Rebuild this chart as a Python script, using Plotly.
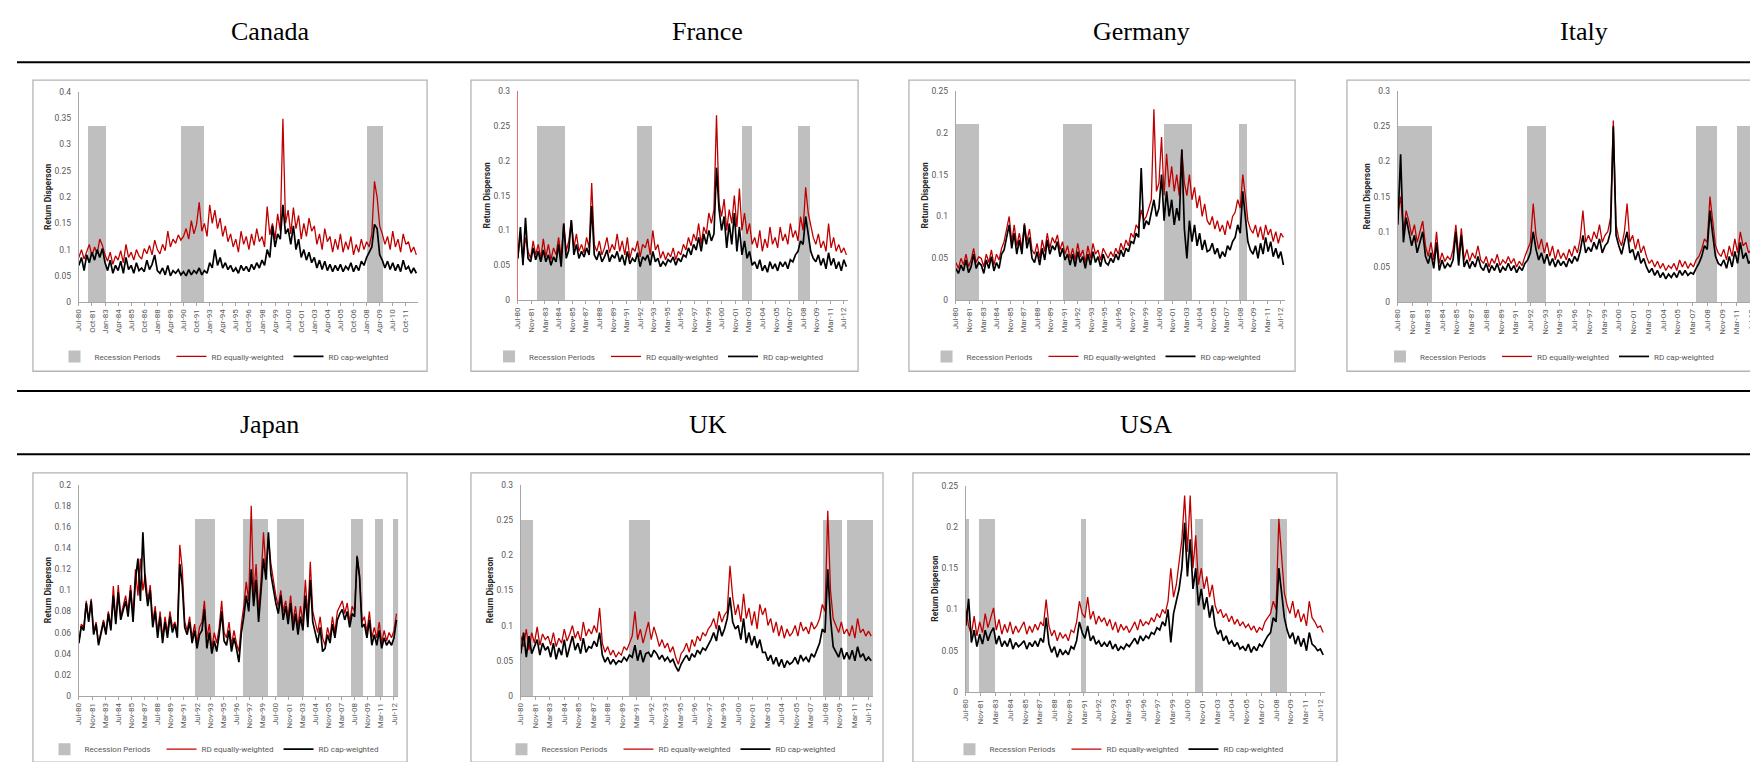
import pandas as pd
import plotly.graph_objects as go

W, H = 1758, 762

# quarterly observation dates (Jul-80 .. Oct-12)
dates = pd.date_range("1980-07-01", periods=130, freq="3MS")

ticks15 = ["Jul-80", "Oct-81", "Jan-83", "Apr-84", "Jul-85", "Oct-86", "Jan-88", "Apr-89",
           "Jul-90", "Oct-91", "Jan-93", "Apr-94", "Jul-95", "Oct-96", "Jan-98", "Apr-99",
           "Jul-00", "Oct-01", "Jan-03", "Apr-04", "Jul-05", "Oct-06", "Jan-08", "Apr-09",
           "Jul-10", "Oct-11"]
ticks16 = ["Jul-80", "Nov-81", "Mar-83", "Jul-84", "Nov-85", "Mar-87", "Jul-88", "Nov-89",
           "Mar-91", "Jul-92", "Nov-93", "Mar-95", "Jul-96", "Nov-97", "Mar-99", "Jul-00",
           "Nov-01", "Mar-03", "Jul-04", "Nov-05", "Mar-07", "Jul-08", "Nov-09", "Mar-11",
           "Jul-12"]

# values in thousandths
canada_ew = [85, 100, 82, 95, 110, 88, 105, 92, 120, 108,
             90, 78, 95, 72, 88, 80, 98, 75, 110, 85,
             95, 80, 100, 88, 82, 102, 92, 108, 90, 118,
             100, 92, 110, 98, 135, 105, 120, 112, 128, 118,
             125, 140, 120, 155, 130, 148, 190, 135, 150, 125,
             185, 150, 175, 140, 160, 125, 145, 115, 130, 105,
             120, 95, 135, 110, 125, 100, 130, 108, 140, 115,
             125, 105, 182, 128, 150, 120, 168, 135, 349, 150,
             175, 130, 180, 140, 165, 120, 150, 125, 160, 135,
             145, 110, 130, 100, 140, 115, 125, 95, 120, 100,
             130, 95, 115, 100, 125, 90, 110, 95, 120, 100,
             115, 105, 130, 230, 200, 145, 130, 110, 125, 100,
             135, 105, 120, 95, 130, 110, 115, 95, 105, 90]
canada_cw = [70, 85, 60, 90, 75, 95, 80, 100, 85, 102,
             75, 60, 80, 55, 70, 60, 78, 55, 85, 62,
             70, 55, 75, 60, 65, 58, 80, 62, 72, 90,
             60, 55, 65, 52, 70, 50, 60, 55, 62, 52,
             58, 50, 62, 52, 60, 55, 65, 52, 60, 55,
             75, 65, 100, 70, 85, 65, 75, 62, 70, 58,
             65, 55, 70, 60, 68, 58, 72, 62, 75, 65,
             80, 70, 100, 85, 145, 105, 130, 120, 185, 130,
             140, 110, 145, 100, 120, 85, 100, 80, 95, 75,
             85, 65, 80, 62, 78, 60, 72, 58, 70, 60,
             72, 58, 68, 62, 75, 58, 70, 60, 78, 70,
             85, 95, 105, 148, 140, 90, 80, 65, 78, 62,
             75, 60, 72, 58, 80, 62, 68, 55, 65, 55]

france_ew = [60, 95, 55, 90, 70, 60, 85, 65, 80, 60,
             88, 62, 80, 58, 75, 65, 90, 60, 110, 70,
             85, 115, 75, 95, 70, 80, 68, 90, 75, 168,
             80, 70, 85, 65, 75, 90, 68, 80, 72, 95,
             70, 85, 65, 90, 60, 75, 70, 85, 62, 80,
             75, 88, 65, 100, 72, 80, 60, 70, 58, 68,
             62, 75, 58, 70, 65, 80, 72, 90, 78, 95,
             85, 110, 80, 105, 95, 125, 110, 130, 265, 140,
             120, 145, 100, 130, 110, 150, 105, 160, 100, 125,
             95, 110, 80, 90, 75, 100, 70, 88, 75, 105,
             80, 90, 75, 105, 85, 95, 80, 110, 90, 100,
             85, 120, 100, 162, 125, 105, 90, 80, 95, 75,
             85, 70, 110, 75, 90, 70, 80, 68, 75, 65]
france_cw = [60, 105, 50, 118, 60, 55, 75, 58, 70, 55,
             72, 55, 65, 50, 62, 55, 80, 48, 110, 60,
             72, 115, 65, 80, 60, 70, 62, 75, 65, 135,
             65, 58, 70, 55, 62, 72, 55, 65, 60, 70,
             55, 65, 50, 70, 52, 60, 55, 68, 48, 62,
             58, 65, 50, 70, 55, 60, 48, 55, 50, 58,
             55, 62, 50, 60, 55, 65, 62, 75, 65, 80,
             72, 90, 70, 95, 80, 100, 85, 95, 190, 130,
             100, 120, 75, 110, 80, 125, 70, 105, 65, 85,
             60, 70, 50, 55, 45, 58, 42, 50, 40, 55,
             45, 52, 42, 55, 48, 55, 45, 58, 55, 65,
             70, 85, 80, 120, 95, 70, 60, 55, 65, 50,
             60, 45, 68, 50, 60, 45, 55, 42, 58, 48]

germany_ew = [45, 38, 50, 42, 55, 40, 48, 62, 45, 52,
              50, 40, 55, 45, 60, 42, 55, 48, 62, 70,
              85, 100, 70, 90, 65, 80, 62, 92, 70, 85,
              60, 55, 68, 50, 72, 58, 80, 62, 75, 68,
              78, 60, 70, 55, 65, 50, 62, 48, 68, 52,
              60, 45, 65, 50, 68, 55, 60, 48, 62, 55,
              50, 58, 52, 62, 55, 68, 60, 72, 65, 80,
              75, 90, 85, 108, 95, 100, 110, 120, 228, 130,
              140, 195, 125, 175, 135, 160, 130, 150, 125, 180,
              140, 125, 150, 120, 135, 110, 125, 100, 115, 95,
              90, 100, 85, 95, 82, 90, 78, 95, 85, 100,
              105, 120, 110, 150, 125, 95, 85, 80, 90, 75,
              88, 72, 90, 78, 85, 70, 82, 68, 80, 75]
germany_cw = [38, 32, 42, 35, 48, 33, 40, 55, 38, 45,
              42, 32, 48, 38, 52, 35, 45, 38, 55, 60,
              75, 90, 62, 80, 55, 72, 55, 90, 62, 75,
              50, 45, 58, 42, 62, 48, 72, 55, 65, 60,
              70, 52, 62, 48, 55, 42, 55, 40, 58, 45,
              52, 38, 55, 42, 58, 45, 52, 40, 55, 45,
              42, 50, 45, 55, 48, 60, 52, 62, 58, 70,
              68, 80, 75, 158, 85, 95, 90, 105, 120, 100,
              110, 150, 95, 130, 100, 120, 90, 110, 95, 180,
              85, 50, 95, 70, 90, 65, 80, 60, 72, 58,
              60, 68, 55, 62, 50, 58, 52, 65, 60, 70,
              75, 90, 80, 130, 95, 70, 60, 55, 65, 50,
              68, 55, 75, 58, 70, 52, 62, 50, 58, 42]

italy_ew = [125, 150, 100, 130, 115, 95, 110, 85, 100, 115,
            80, 65, 85, 60, 100, 55, 70, 58, 65, 60,
            75, 110, 65, 105, 60, 75, 58, 70, 62, 80,
            60, 55, 65, 50, 62, 55, 68, 52, 60, 55,
            65, 55, 62, 50, 58, 52, 65, 75, 85, 140,
            95, 75, 90, 70, 85, 65, 80, 60, 75, 62,
            70, 60, 75, 65, 80, 70, 90, 130, 85, 95,
            85, 100, 90, 110, 85, 95, 100, 120, 258, 110,
            90, 80, 100, 140, 85, 95, 75, 90, 70, 80,
            65, 55, 60, 50, 58, 48, 55, 45, 52, 48,
            55, 45, 60, 50, 58, 48, 55, 50, 60, 65,
            75, 90, 85, 150, 110, 80, 70, 65, 75, 60,
            80, 65, 90, 70, 100, 80, 85, 70, 75, 60]
italy_cw = [110, 210, 85, 120, 100, 80, 95, 70, 85, 100,
            65, 55, 70, 48, 85, 45, 60, 48, 55, 50,
            60, 100, 52, 95, 50, 60, 48, 58, 50, 65,
            50, 45, 55, 42, 52, 45, 55, 42, 50, 45,
            55, 45, 52, 42, 50, 45, 55, 60, 70, 100,
            75, 60, 70, 55, 68, 52, 62, 50, 60, 52,
            58, 50, 62, 55, 65, 58, 72, 95, 70, 78,
            72, 85, 75, 90, 70, 80, 85, 100, 250, 95,
            80, 68, 85, 100, 70, 75, 60, 72, 55, 62,
            50, 42, 48, 38, 45, 35, 42, 33, 40, 35,
            42, 35, 45, 38, 45, 38, 42, 40, 48, 55,
            65, 80, 75, 130, 95, 65, 55, 52, 60, 48,
            65, 50, 72, 55, 85, 62, 70, 55, 60, 42]

japan_ew = [50, 68, 65, 90, 72, 92, 60, 70, 50, 62,
            72, 60, 80, 65, 104, 70, 105, 75, 85, 95,
            80, 105, 75, 120, 95, 130, 100, 115, 90, 105,
            70, 85, 60, 80, 55, 75, 60, 80, 65, 70,
            60, 143, 120, 70, 62, 75, 55, 68, 50, 65,
            70, 90, 55, 68, 45, 60, 50, 65, 90, 60,
            55, 70, 48, 62, 50, 42, 68, 85, 108, 90,
            180, 95, 125, 80, 110, 155, 120, 150, 125, 110,
            95, 85, 100, 80, 90, 75, 95, 70, 85, 65,
            85, 70, 110, 75, 127, 80, 70, 60, 75, 55,
            48, 65, 55, 75, 60, 80, 85, 90, 78, 88,
            70, 85, 80, 133, 115, 70, 75, 60, 80, 55,
            65, 55, 70, 50, 62, 52, 60, 55, 62, 78]
japan_cw = [50, 66, 62, 88, 70, 90, 58, 68, 48, 60,
            70, 58, 78, 62, 95, 68, 98, 72, 80, 90,
            75, 100, 70, 110, 130, 90, 155, 105, 85, 100,
            65, 80, 55, 75, 50, 70, 55, 75, 60, 68,
            55, 125, 105, 65, 58, 70, 50, 62, 45, 58,
            62, 82, 45, 60, 40, 52, 42, 58, 80, 52,
            48, 62, 42, 55, 45, 32, 60, 75, 95, 80,
            120, 85, 110, 70, 100, 130, 110, 155, 115, 100,
            88, 78, 95, 72, 85, 68, 88, 62, 78, 58,
            75, 62, 95, 65, 110, 70, 60, 50, 65, 42,
            45, 58, 50, 68, 55, 72, 78, 82, 72, 80,
            65, 78, 75, 132, 112, 65, 68, 55, 72, 48,
            58, 48, 62, 45, 55, 48, 52, 48, 55, 72]

uk_ew = [85, 70, 95, 65, 90, 75, 98, 72, 88, 80,
         85, 72, 90, 70, 82, 75, 95, 78, 88, 100,
         82, 92, 78, 105, 85, 95, 88, 100, 90, 125,
         75, 62, 70, 58, 65, 55, 62, 58, 70, 65,
         75, 85, 120, 80, 95, 75, 90, 105, 80, 98,
         85, 70, 80, 68, 75, 62, 70, 55, 45, 60,
         65, 75, 62, 80, 70, 85, 78, 90, 85, 95,
         100, 110, 95, 120, 105, 115, 120, 185, 140, 115,
         130, 105, 145, 110, 125, 100, 120, 95, 130, 115,
         125, 100, 110, 90, 105, 85, 100, 82, 95, 85,
         90, 100, 85, 105, 92, 98, 88, 105, 95, 100,
         110, 130, 120, 263, 150, 110, 100, 90, 105, 88,
         95, 85, 100, 82, 110, 90, 95, 85, 92, 85]
uk_cw = [60, 90, 55, 85, 60, 70, 80, 58, 75, 65,
         70, 55, 75, 52, 68, 58, 80, 55, 70, 85,
         65, 75, 60, 82, 62, 70, 68, 78, 70, 90,
         58, 48, 55, 45, 52, 45, 50, 48, 55, 50,
         58, 55, 72, 50, 65, 48, 60, 62, 55, 65,
         60, 52, 58, 50, 55, 48, 52, 42, 35, 45,
         52, 58, 50, 60, 55, 65, 60, 68, 65, 72,
         80, 90, 78, 100, 85, 95, 110, 140, 105, 95,
         100, 80, 110, 75, 90, 72, 85, 68, 80, 62,
         62, 50, 58, 45, 55, 42, 52, 40, 50, 45,
         48, 55, 45, 58, 50, 55, 48, 60, 55, 65,
         75, 95, 90, 180, 110, 70, 62, 55, 68, 52,
         62, 52, 65, 50, 70, 55, 60, 50, 55, 50]

usa_ew = [100, 80, 70, 92, 68, 85, 72, 95, 78, 90,
          102, 75, 88, 70, 82, 72, 85, 70, 80, 72,
          78, 85, 70, 80, 72, 82, 75, 85, 80, 112,
          80, 68, 75, 62, 72, 65, 70, 62, 75, 72,
          85, 110, 95, 90, 115, 88, 98, 82, 92, 85,
          90, 80, 88, 75, 85, 72, 82, 75, 80, 72,
          78, 85, 75, 88, 80, 85, 82, 90, 85, 95,
          90, 100, 95, 110, 150, 115, 130, 160, 185, 238,
          170, 238, 150, 190, 130, 150, 125, 140, 115, 130,
          105, 95, 100, 90, 95, 85, 92, 82, 88, 80,
          85, 78, 82, 75, 80, 72, 78, 75, 85, 90,
          95, 110, 100, 210, 160, 120, 105, 95, 110, 90,
          100, 85, 95, 80, 110, 90, 85, 78, 80, 72]
usa_cw = [80, 113, 60, 75, 55, 70, 58, 75, 62, 72,
          78, 58, 68, 55, 62, 55, 65, 52, 60, 55,
          58, 62, 52, 60, 55, 62, 55, 65, 60, 90,
          58, 48, 55, 42, 52, 45, 50, 45, 55, 52,
          62, 85, 72, 65, 80, 62, 68, 58, 62, 55,
          60, 55, 62, 52, 58, 50, 55, 52, 58, 55,
          60, 65, 58, 68, 62, 68, 65, 72, 70, 78,
          75, 85, 80, 100, 60, 95, 110, 125, 150, 205,
          140, 185, 125, 150, 105, 125, 100, 115, 90, 105,
          80, 70, 75, 62, 68, 58, 62, 55, 60, 52,
          55, 50, 58, 48, 55, 50, 58, 55, 62, 68,
          72, 90, 85, 150, 120, 90, 75, 65, 72, 58,
          68, 55, 65, 50, 72, 58, 55, 50, 52, 45]

# recession periods (first month, last month) and shaded-bar height
canada_rec = [("1981-05", "1983-01"), ("1990-04", "1992-05"), ("2008-01", "2009-07")]
france_rec = [("1982-05", "1985-01"), ("1992-03", "1993-08"), ("2002-07", "2003-06"), ("2008-01", "2009-02")]
germany_rec = [("1980-07", "1982-09"), ("1991-01", "1993-11"), ("2001-01", "2003-09"), ("2008-05", "2009-02")]
italy_rec = [("1980-07", "1983-07"), ("1992-03", "1993-11"), ("2007-07", "2009-04"), ("2011-03", "2012-12")]
japan_rec = [("1992-04", "1994-04"), ("1997-03", "1999-08"), ("2000-08", "2003-04"), ("2008-03", "2009-04"),
             ("2010-08", "2011-05"), ("2012-05", "2012-12")]
uk_rec = [("1980-07", "1981-07"), ("1990-06", "1992-04"), ("2008-05", "2010-01"), ("2010-07", "2012-12")]
usa_rec = [("1980-07", "1980-09"), ("1981-09", "1983-01"), ("1990-12", "1991-04"), ("2001-03", "2001-11"),
           ("2007-12", "2009-06")]
rec_height = [0.335, 0.25, 0.21, 0.25, 0.168, 0.25, 0.21]
y_max = [0.4, 0.3, 0.25, 0.3, 0.2, 0.3, 0.25]
y_step = [0.05, 0.05, 0.05, 0.05, 0.02, 0.05, 0.05]

names = ["Canada", "France", "Germany", "Italy", "Japan", "UK", "USA"]
ew_all = [canada_ew, france_ew, germany_ew, italy_ew, japan_ew, uk_ew, usa_ew]
cw_all = [canada_cw, france_cw, germany_cw, italy_cw, japan_cw, uk_cw, usa_cw]
rec_all = [canada_rec, france_rec, germany_rec, italy_rec, japan_rec, uk_rec, usa_rec]
tick_all = [ticks15, ticks16, ticks16, ticks16, ticks16, ticks16, ticks16]

# layout in pixels
plot_px = [(67, 407, 80, 293), (507, 838, 79, 291), (946, 1276, 79, 291), (1389, 1748, 79, 293),
           (67, 387, 478, 692), (510, 863, 478, 692), (956, 1316, 479, 688)]
box_px = [(21, 416, 68, 363), (460, 848, 68, 363), (899, 1286, 68, 363), (1338, 1756, 68, 363),
          (21, 396, 466, 759), (460, 873, 466, 759), (903, 1328, 466, 759)]
title_px = [(259, 19), (697, 19), (1132, 19), (1576, 19), (258, 417), (698, 417), (1137, 417)]
legend_y_px = [348, 348, 348, 348, 746, 746, 746]

RED = "#c00000"
BAND = "#bfbfbf"
AXIS = "#a6a6a6"
TXT = "#595959"
SMALL = "Roboto"

fig = go.Figure()
annotations = []
shapes = []

for i in range(7):
    n = "" if i == 0 else str(i + 1)
    xa, ya, lg = "x" + n, "y" + n, "legend" + n
    x0, x1, yt, yb = plot_px[i]

    starts = [pd.Timestamp(s) for s, e in rec_all[i]]
    ends = [pd.Timestamp(e) + pd.offsets.MonthBegin(1) for s, e in rec_all[i]]
    mids = [s + (e - s) / 2 for s, e in zip(starts, ends)]
    widths = [(e - s).total_seconds() * 1000 for s, e in zip(starts, ends)]

    fig.add_trace(go.Bar(x=mids, y=[rec_height[i]] * len(mids), width=widths,
                         marker=dict(color=BAND, line=dict(width=0)),
                         name="Recession Periods", xaxis=xa, yaxis=ya, legend=lg,
                         hoverinfo="skip"))
    fig.add_trace(go.Scatter(x=dates, y=[v / 1000 for v in ew_all[i]], mode="lines",
                             line=dict(color=RED, width=1.3),
                             name="RD equally-weighted", xaxis=xa, yaxis=ya, legend=lg))
    fig.add_trace(go.Scatter(x=dates, y=[v / 1000 for v in cw_all[i]], mode="lines",
                             line=dict(color="#000000", width=1.7),
                             name="RD cap-weighted", xaxis=xa, yaxis=ya, legend=lg))

    tvals = [pd.to_datetime(t, format="%b-%y") for t in tick_all[i]]
    fig.layout["xaxis" + n] = dict(
        domain=[x0 / W, x1 / W], anchor=ya, type="date",
        range=["1980-07-01", "2012-12-01"],
        tickvals=tvals, ticktext=tick_all[i], tickangle=-90,
        tickfont=dict(family=SMALL, size=8, color=TXT),
        ticks="outside", ticklen=3, tickcolor=AXIS,
        showline=True, linecolor=AXIS, linewidth=1,
        showgrid=False, zeroline=False)
    fig.layout["yaxis" + n] = dict(
        domain=[1 - yb / H, 1 - yt / H], anchor=xa,
        range=[0, y_max[i]], dtick=y_step[i], tick0=0,
        tickfont=dict(family=SMALL, size=8.5, color=TXT),
        ticks="outside", ticklen=5, tickcolor="rgba(0,0,0,0)",
        showline=True, linecolor="#e07070" if names[i] == "France" else AXIS, linewidth=1,
        showgrid=False, zeroline=False)

    bx0, bx1, by0, by1 = box_px[i]
    shapes.append(dict(type="rect", xref="paper", yref="paper",
                       x0=bx0 / W, x1=bx1 / W, y0=1 - by1 / H, y1=1 - by0 / H,
                       line=dict(color="#b4b4b4", width=1.3), fillcolor="rgba(0,0,0,0)",
                       layer="below"))

    tx, ty = title_px[i]
    annotations.append(dict(text=names[i], xref="paper", yref="paper", x=tx / W, y=1 - ty / H,
                            xanchor="center", yanchor="middle", showarrow=False,
                            font=dict(family="Liberation Serif", size=26, color="#000000")))
    annotations.append(dict(text="<b>Return Disperson</b>", xref="paper", yref="paper",
                            x=(x0 - 31) / W, y=1 - ((yt + yb) / 2) / H, textangle=-90,
                            xanchor="center", yanchor="middle", showarrow=False,
                            font=dict(family=SMALL, size=8.5, color="#262626")))

    fig.layout["legend" + n] = dict(
        orientation="h", x=((bx0 + bx1) / 2) / W, y=1 - legend_y_px[i] / H,
        xanchor="center", yanchor="middle", bgcolor="rgba(0,0,0,0)",
        font=dict(family=SMALL, size=8, color=TXT), itemwidth=30, traceorder="normal",
        entrywidth=72, entrywidthmode="pixels")

for ly in [50, 383, 447]:
    shapes.append(dict(type="line", xref="paper", yref="paper", x0=5 / W, x1=1,
                       y0=1 - ly / H, y1=1 - ly / H, line=dict(color="#000000", width=2)))

fig.update_layout(width=W, height=H, margin=dict(l=0, r=0, t=0, b=0),
                  paper_bgcolor="white", plot_bgcolor="white",
                  barmode="overlay", bargap=0, showlegend=True,
                  annotations=annotations, shapes=shapes)

fig.write_html("out.html")
